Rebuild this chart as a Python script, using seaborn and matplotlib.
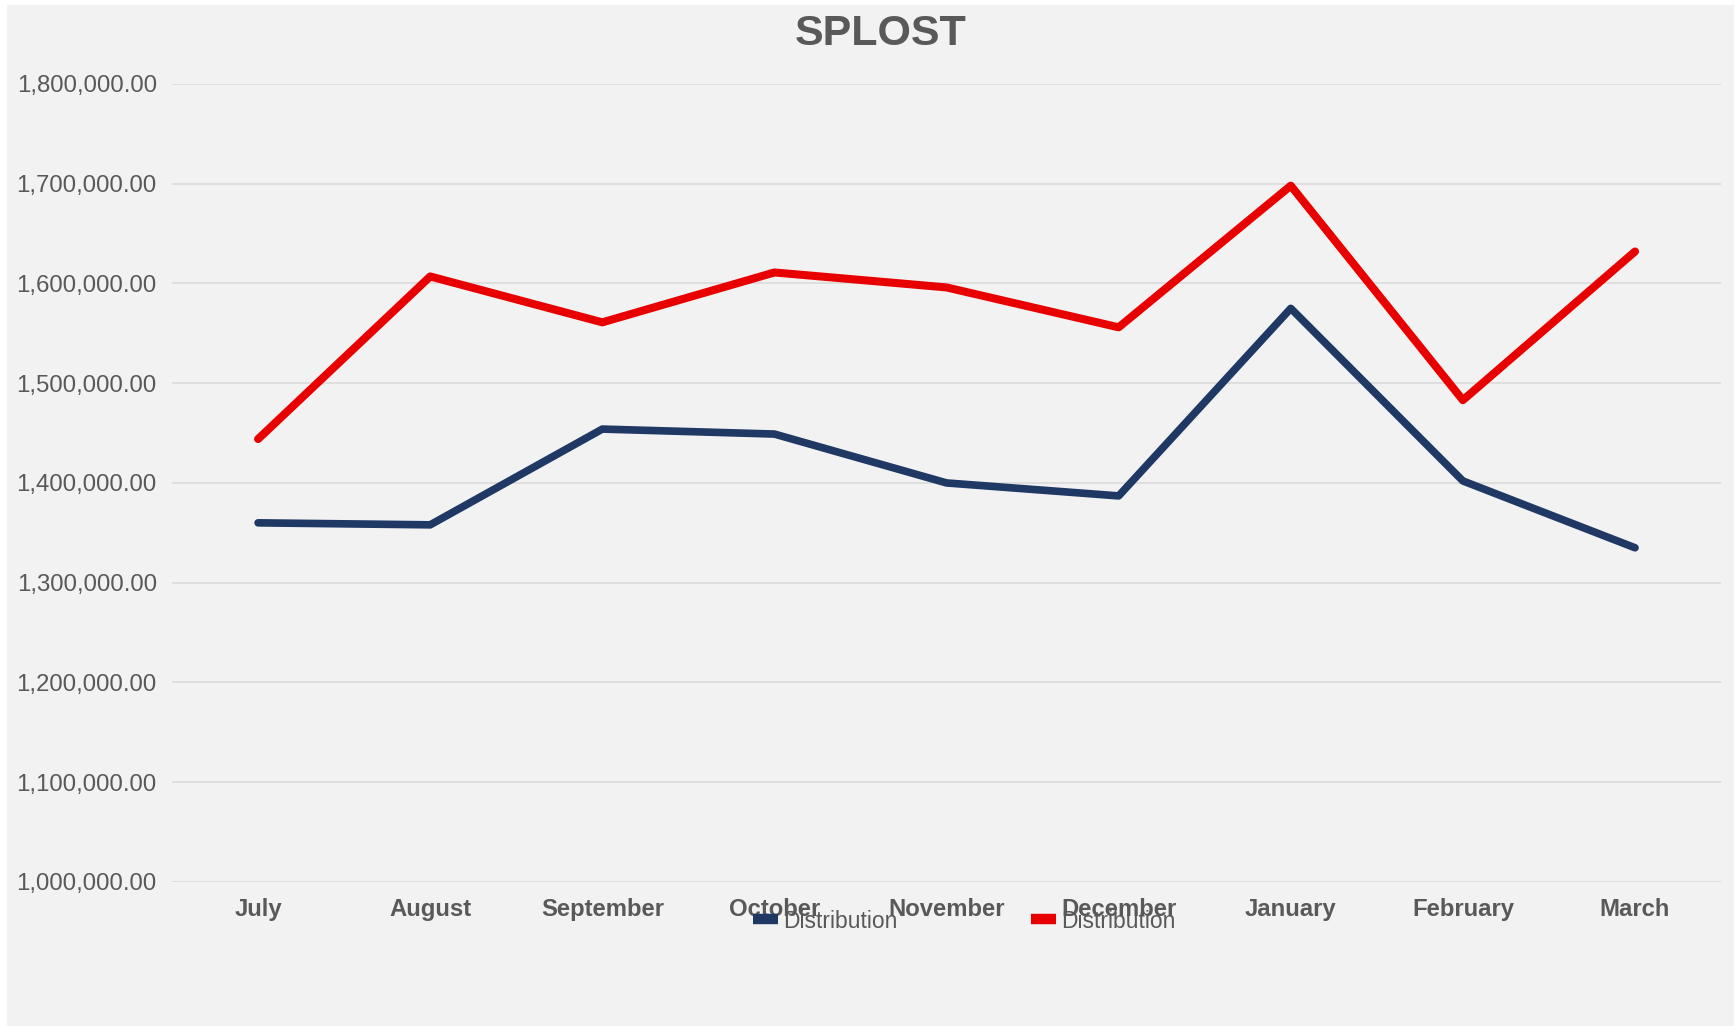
import numpy as np
import pandas as pd
import matplotlib
matplotlib.use("Agg")
import matplotlib.pyplot as plt
import matplotlib.ticker as mticker
from matplotlib.patches import Rectangle
import seaborn as sns

# ── Data ──────────────────────────────────────────────────────────────────────
months = ["July", "August", "September", "October", "November",
          "December", "January", "February", "March"]
dist_blue = [1360000, 1358000, 1454000, 1449000, 1400000,
             1387000, 1575000, 1402000, 1335000]
dist_red = [1444000, 1607000, 1561000, 1611000, 1596000,
            1556000, 1698000, 1483000, 1632000]
y_ticks = [1000000, 1100000, 1200000, 1300000, 1400000,
           1500000, 1600000, 1700000, 1800000]

BG = "#f2f2f2"
GRID = "#dcdcdc"
TXT = "#595959"
BLUE = "#1f3864"
RED = "#e80000"

sns.set_theme(style="white")
plt.rcParams["font.family"] = ["Liberation Sans", "DejaVu Sans"]

df_blue = pd.DataFrame({"month": months, "value": dist_blue})
df_red = pd.DataFrame({"month": months, "value": dist_red})

fig = plt.figure(figsize=(17.36, 10.26), dpi=100, facecolor="white")
# grey card behind everything, thin white margin top/left like the screenshot
fig.patches.append(Rectangle((7 / 1736, 0), 1 - 9 / 1736, 1 - 5 / 1026,
                             transform=fig.transFigure, facecolor=BG,
                             edgecolor="none", zorder=-10))

ax = fig.add_axes([0.0991, 0.1404, 0.8923, 0.7778])
ax.set_facecolor(BG)

sns.lineplot(data=df_blue, x="month", y="value", color=BLUE, linewidth=5.5,
             label="Distribution", ax=ax, sort=False)
sns.lineplot(data=df_red, x="month", y="value", color=RED, linewidth=5.8,
             label="Distribution", ax=ax, sort=False)

ax.set_xlim(-0.5, len(months) - 0.5)
ax.set_ylim(y_ticks[0], y_ticks[-1])
ax.set_yticks(y_ticks)
ax.yaxis.set_major_formatter(mticker.FuncFormatter(lambda v, _: f"{v:,.2f}"))
ax.grid(axis="y", color=GRID, linewidth=1.3)
ax.grid(axis="x", visible=False)
ax.set_axisbelow(True)
for s in ax.spines.values():
    s.set_visible(False)
ax.set_xlabel("")
ax.set_ylabel("")
ax.tick_params(axis="y", length=0, pad=11, labelsize=17.3, labelcolor=TXT)
ax.tick_params(axis="x", length=0, pad=11.5, labelsize=17.2, labelcolor=TXT)
for lbl in ax.get_xticklabels():
    lbl.set_fontweight("bold")

# ── Legend overlapping the month labels, as in the reference ──────────────────
ax.get_legend().remove()
handles, labels = ax.get_legend_handles_labels()
leg = fig.legend(handles, labels, loc="center left",
                 bbox_to_anchor=(753 / 1736, 1 - 921 / 1026),
                 ncol=2, frameon=False, fontsize=16.5,
                 handlelength=1.1, handletextpad=0.22, columnspacing=5.8,
                 borderpad=0, borderaxespad=0)
for h in leg.get_lines():
    h.set_linewidth(7.5)
    h.set_solid_capstyle("butt")
for t in leg.get_texts():
    t.set_color(TXT)

fig.text(881 / 1736, 1 - 34 / 1026, "SPLOST", ha="center", va="center",
         fontsize=31, fontweight="bold", color=TXT)

fig.savefig("out.png", dpi=100, facecolor=fig.get_facecolor())
